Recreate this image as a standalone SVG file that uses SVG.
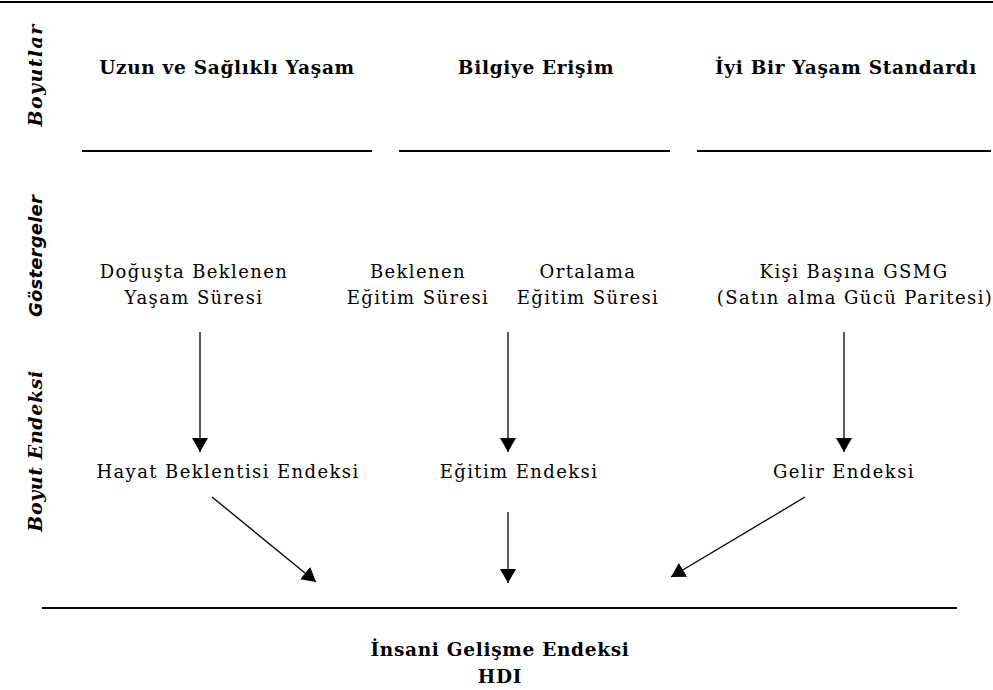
<svg xmlns="http://www.w3.org/2000/svg" width="993" height="690" viewBox="0 0 993 690">
<defs>
<style>
.hdr{font-family:"DejaVu Serif","Liberation Serif",serif;font-weight:bold;font-size:18.5px;letter-spacing:0.7px;fill:#000;text-anchor:middle}
.txt{font-family:"DejaVu Serif","Liberation Serif",serif;font-size:18px;letter-spacing:1.4px;fill:#000;text-anchor:middle}
.side{font-family:"DejaVu Serif","Liberation Serif",serif;font-weight:bold;font-style:italic;font-size:19px;fill:#000;text-anchor:middle}
.sides{font-family:"DejaVu Sans","Liberation Sans",sans-serif;font-weight:bold;font-style:italic;font-size:18px;letter-spacing:0.2px;fill:#000;text-anchor:middle}
.rule{stroke:#000;stroke-width:2.2;fill:none}
.arr{stroke:#000;stroke-width:1.3;fill:none;marker-end:url(#ah)}
</style>
<marker id="ah" viewBox="0 0 14 16" refX="14" refY="8" markerWidth="14" markerHeight="16" markerUnits="userSpaceOnUse" orient="auto">
<path d="M0,0 L14,8 L0,16 Z" fill="#000"/>
</marker>
</defs>
<g id="rules">
<line class="rule" x1="0" y1="2" x2="993" y2="2"/>
<line class="rule" x1="82" y1="151" x2="372" y2="151"/>
<line class="rule" x1="399" y1="151" x2="670" y2="151"/>
<line class="rule" x1="697" y1="151" x2="991" y2="151"/>
<line class="rule" x1="42" y1="608" x2="957" y2="608"/>
</g>
<g id="side-labels">
<text class="side" style="letter-spacing:1.4px" transform="translate(42,75) rotate(-90)">Boyutlar</text>
<text class="sides" transform="translate(42,256) rotate(-90)">Göstergeler</text>
<text class="side" style="letter-spacing:0.6px" transform="translate(42,451) rotate(-90)">Boyut Endeksi</text>
</g>
<g id="dim1"><text class="hdr" x="227" y="74">Uzun ve Sağlıklı Yaşam</text></g>
<g id="dim2"><text class="hdr" x="536" y="74">Bilgiye Erişim</text></g>
<g id="dim3"><text class="hdr" x="846" y="74">İyi Bir Yaşam Standardı</text></g>
<g id="ind1"><text class="txt" x="194" y="278">Doğuşta Beklenen</text><text class="txt" x="194" y="304">Yaşam Süresi</text></g>
<g id="ind2"><text class="txt" x="418" y="278">Beklenen</text><text class="txt" x="418" y="304">Eğitim Süresi</text></g>
<g id="ind3"><text class="txt" x="588" y="278">Ortalama</text><text class="txt" x="588" y="304">Eğitim Süresi</text></g>
<g id="ind4"><text class="txt" x="854" y="278">Kişi Başına GSMG</text><text class="txt" x="855" y="304">(Satın alma Gücü Paritesi)</text></g>
<g id="idx1"><text class="txt" x="228" y="478">Hayat Beklentisi Endeksi</text></g>
<g id="idx2"><text class="txt" x="519" y="478">Eğitim Endeksi</text></g>
<g id="idx3"><text class="txt" x="844" y="478">Gelir Endeksi</text></g>
<g id="hdi"><text class="hdr" x="500" y="656">İnsani Gelişme Endeksi</text><text class="hdr" x="500" y="683">HDI</text></g>
<g id="connectors">
<line class="arr" x1="200" y1="332" x2="200" y2="452"/>
<line class="arr" x1="508" y1="332" x2="508" y2="452"/>
<line class="arr" x1="844" y1="332" x2="844" y2="452"/>
<line class="arr" x1="212" y1="497" x2="316" y2="582"/>
<line class="arr" x1="508" y1="512" x2="508" y2="583"/>
<line class="arr" x1="805" y1="497" x2="671" y2="577"/>
</g>
</svg>
